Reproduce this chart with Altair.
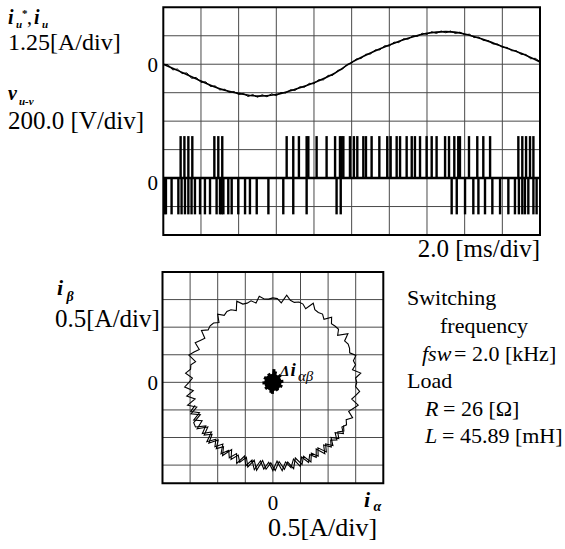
import altair as alt
import pandas as pd

SERIF = "Liberation Serif"

# ---------------- time-domain traces (2.0 ms/div, 10 divisions) ----------------
TIME_GRID_MS = [2, 4, 6, 8, 10, 12, 14, 16, 18]
TOP_DIV_GRID = [-3, -2, -1, 0, 1, 2, 3]
I_ZERO_DIV = 2          # current trace zero, divisions above screen centre
V_ZERO_DIV = -2         # voltage trace zero, divisions below screen centre
I_PER_DIV = 1.25        # A/div
V_PER_DIV = 200.0       # V/div

# reference current i_u* [A], one sample per ms
IREF_T_MS = list(range(21))
IREF_A = [0.00, -0.36, -0.74, -1.08, -1.28, -1.40, -1.33, -1.10, -0.81, -0.44, 0.08,
          0.49, 0.84, 1.14, 1.36, 1.43, 1.33, 1.08, 0.78, 0.48, 0.10]

# measured current i_u [A], one sample per 0.25 ms
IU_STEP_MS = 0.25
IU_A = [0.00, -0.02, -0.25, -0.21, -0.41, -0.38, -0.62, -0.58, -0.80, -0.77,
        -0.98, -0.95, -1.13, -1.10, -1.24, -1.20, -1.33, -1.28, -1.42, -1.33,
        -1.45, -1.34, -1.43, -1.30, -1.38, -1.24, -1.27, -1.12, -1.15, -0.99,
        -1.01, -0.84, -0.86, -0.68, -0.69, -0.49, -0.49, -0.27, -0.23, -0.01,
        0.05, 0.23, 0.25, 0.44, 0.45, 0.63, 0.63, 0.81, 0.80, 0.97,
        0.95, 1.12, 1.10, 1.25, 1.22, 1.36, 1.31, 1.43, 1.35, 1.46,
        1.38, 1.46, 1.35, 1.41, 1.29, 1.32, 1.17, 1.19, 1.04, 1.04,
        0.89, 0.89, 0.74, 0.74, 0.59, 0.59, 0.43, 0.43, 0.24, 0.26, 0.12]

# line-to-line voltage v_u-v: switching pulses [ms]
PULSE_UP_MS = [0.92, 1.12, 1.33, 1.54, 2.71, 2.92, 3.13, 6.55, 6.90, 7.20, 7.61, 7.70,
               8.14, 8.67, 9.12, 9.38, 9.47, 9.56, 9.91, 10.12, 10.30, 10.62, 10.76,
               11.06, 11.47, 11.89, 12.07, 12.39, 12.57, 12.92, 13.19, 13.36, 13.63,
               13.98, 14.25, 14.51, 14.96, 15.17, 15.45, 15.66, 15.75, 16.23, 16.67,
               16.99, 17.35, 18.85, 19.06, 19.26, 19.47, 19.65]
PULSE_DOWN_MS = [0.05, 0.14, 0.44, 0.80, 0.97, 1.15, 1.33, 1.50, 1.68, 1.95, 2.21,
                 2.48, 2.83, 3.01, 3.10, 3.19, 3.45, 3.63, 3.98, 4.34, 4.60, 4.96,
                 5.58, 6.37, 6.90, 7.61, 9.20, 9.42, 15.31, 15.58, 16.02, 16.46,
                 16.73, 17.08, 17.47, 17.88, 18.32, 18.67, 18.88, 19.06, 19.20,
                 19.38, 19.65, 19.82]
V_HIGH = 295.0
V_LOW = -255.0

# ---------------- alpha-beta current plane (0.5 A/div) ----------------
AB_GRID = [-1.5, -1.0, -0.5, 0.0, 0.5, 1.0, 1.5]
# one full turn of the current vector, every 3 degrees
TRAJ_ANGLE_DEG = list(range(0, 361, 3))
TRAJ_RADIUS_A = [
    1.52, 1.50, 1.60, 1.46, 1.53, 1.51, 1.58, 1.49, 1.52, 1.53,
    1.50, 1.62, 1.45, 1.53, 1.52, 1.50, 1.59, 1.47, 1.53, 1.51,
    1.52, 1.61, 1.46, 1.52, 1.53, 1.50, 1.52, 1.60, 1.45, 1.52,
    1.53, 1.51, 1.52, 1.58, 1.47, 1.53, 1.51, 1.52, 1.61, 1.46,
    1.52, 1.53, 1.50, 1.59, 1.46, 1.52, 1.53, 1.51, 1.60, 1.47,
    1.52, 1.58, 1.46, 1.53, 1.60, 1.45, 1.52, 1.51, 1.59, 1.46,
    1.52, 1.60, 1.45, 1.58, 1.44, 1.60, 1.45, 1.59, 1.44, 1.61,
    1.62, 1.45, 1.58, 1.43, 1.61, 1.46, 1.57, 1.44, 1.60, 1.47,
    1.58, 1.45, 1.61, 1.43, 1.59, 1.46, 1.62, 1.44, 1.58, 1.45,
    1.60, 1.43, 1.61, 1.46, 1.58, 1.44, 1.60, 1.45, 1.59, 1.47,
    1.57, 1.44, 1.60, 1.46, 1.58, 1.48, 1.56, 1.45, 1.58, 1.49,
    1.54, 1.49, 1.58, 1.47, 1.53, 1.60, 1.46, 1.52, 1.58, 1.50,
    1.52]
# second pass over the lower arc (dense ripple band), offset by 1.5 degrees
BAND_ANGLE_DEG = [a + 1.5 for a in range(195, 330, 3)]
BAND_RADIUS_A = [
    1.47, 1.58, 1.44, 1.59, 1.46, 1.61, 1.43, 1.57, 1.45, 1.60,
    1.44, 1.58, 1.47, 1.61, 1.43, 1.59, 1.46, 1.57, 1.44, 1.60,
    1.45, 1.62, 1.43, 1.58, 1.46, 1.60, 1.44, 1.59, 1.47, 1.61,
    1.43, 1.58, 1.45, 1.60, 1.46, 1.57, 1.44, 1.59, 1.47, 1.58,
    1.45, 1.57, 1.48, 1.56, 1.50]
# current error vectors delta i_alpha-beta [A]
DI_ALPHA = [0.19, 0.14, 0.05, -0.08, -0.16, -0.19, -0.14, -0.04, 0.09, 0.17, 0.02, -0.01]
DI_BETA = [0.02, 0.13, 0.20, 0.16, 0.09, -0.01, -0.12, -0.19, -0.15, -0.08, 0.24, -0.21]

# ---------------- scales: each panel owns a fixed pixel range ----------------
T_SC = alt.Scale(domain=[0, 20], range=[163.3, 540.0], nice=False, zero=False)
DIV_SC = alt.Scale(domain=[-4, 4], range=[235.0, 7.3], nice=False, zero=False)
A_SC = alt.Scale(domain=[-2.0, 2.0], range=[162.5, 383.3], nice=False, zero=False)
B_SC = alt.Scale(domain=[-1.83, 2.0], range=[483.3, 272.0], nice=False, zero=False)

GRID_COLOR = "#4a4a4a"


def segments(xs, ys, xlim, ylim):
    rows = [{"x": v, "x2": v, "y": ylim[0], "y2": ylim[1]} for v in xs]
    rows += [{"x": xlim[0], "x2": xlim[1], "y": v, "y2": v} for v in ys]
    return pd.DataFrame(rows)


def seg_layer(df, xs, ys, **mark):
    return alt.Chart(df).mark_rule(**mark).encode(
        x=alt.X("x:Q", scale=xs, axis=None), x2="x2:Q",
        y=alt.Y("y:Q", scale=ys, axis=None), y2="y2:Q")


def frame(xs, ys, xlim, ylim):
    df = pd.DataFrame([{"x": xlim[0], "x2": xlim[1], "y": ylim[0], "y2": ylim[1]}])
    return alt.Chart(df).mark_rect(filled=False, stroke="black", strokeWidth=2).encode(
        x=alt.X("x:Q", scale=xs, axis=None), x2="x2:Q",
        y=alt.Y("y:Q", scale=ys, axis=None), y2="y2:Q")


def polar_line(angles, radii, width):
    df = pd.DataFrame({"k": list(range(len(angles))), "deg": angles, "r": radii})
    return alt.Chart(df).transform_calculate(
        ia="datum.r * cos(datum.deg * PI / 180)",
        ib="datum.r * sin(datum.deg * PI / 180)"
    ).mark_line(color="black", strokeWidth=width).encode(
        x=alt.X("ia:Q", scale=A_SC, axis=None),
        y=alt.Y("ib:Q", scale=B_SC, axis=None),
        order="k:Q")


# ---- top panel ----
top_grid = seg_layer(segments(TIME_GRID_MS, TOP_DIV_GRID, (0, 20), (-4, 4)),
                     T_SC, DIV_SC, color=GRID_COLOR, strokeWidth=1)
top_frame = frame(T_SC, DIV_SC, (0, 20), (-4, 4))

iref_df = pd.DataFrame({"t": IREF_T_MS, "i": IREF_A})
iref = alt.Chart(iref_df).transform_calculate(
    yd=f"{I_ZERO_DIV} + datum.i / {I_PER_DIV}"
).mark_line(color="black", strokeWidth=1.6, interpolate="monotone").encode(
    x=alt.X("t:Q", scale=T_SC, axis=None),
    y=alt.Y("yd:Q", scale=DIV_SC, axis=None))

iu_df = pd.DataFrame({"t": [k * IU_STEP_MS for k in range(len(IU_A))], "i": IU_A})
iu = alt.Chart(iu_df).transform_calculate(
    yd=f"{I_ZERO_DIV} + datum.i / {I_PER_DIV}"
).mark_line(color="black", strokeWidth=1.0).encode(
    x=alt.X("t:Q", scale=T_SC, axis=None),
    y=alt.Y("yd:Q", scale=DIV_SC, axis=None))

pulse_df = pd.DataFrame(
    {"t": PULSE_UP_MS + PULSE_DOWN_MS,
     "v": [V_HIGH] * len(PULSE_UP_MS) + [V_LOW] * len(PULSE_DOWN_MS)})
pulses = alt.Chart(pulse_df).transform_calculate(
    y0=f"{V_ZERO_DIV}", y1=f"{V_ZERO_DIV} + datum.v / {V_PER_DIV}"
).mark_rule(color="black", strokeWidth=2.4).encode(
    x=alt.X("t:Q", scale=T_SC, axis=None),
    y=alt.Y("y0:Q", scale=DIV_SC, axis=None), y2="y1:Q")

base_df = pd.DataFrame({"t": [0.0], "t2": [20.0], "y": [V_ZERO_DIV]})
baseline = alt.Chart(base_df).mark_rule(color="black", strokeWidth=2.5).encode(
    x=alt.X("t:Q", scale=T_SC, axis=None), x2="t2:Q",
    y=alt.Y("y:Q", scale=DIV_SC, axis=None))

top = alt.layer(top_grid, iref, iu, pulses, baseline, top_frame)

# ---- bottom panel ----
ab_grid = seg_layer(segments(AB_GRID, AB_GRID, (-2.0, 2.0), (-1.83, 2.0)),
                    A_SC, B_SC, color=GRID_COLOR, strokeWidth=1)
ab_frame = frame(A_SC, B_SC, (-2.0, 2.0), (-1.83, 2.0))

traj = polar_line(TRAJ_ANGLE_DEG, TRAJ_RADIUS_A, 1.1)
band = polar_line(BAND_ANGLE_DEG, BAND_RADIUS_A, 1.1)

di_df = pd.DataFrame({"da": DI_ALPHA, "db": DI_BETA})
di = alt.Chart(di_df).transform_calculate(o="0").mark_rule(
    color="black", strokeWidth=3).encode(
    x=alt.X("o:Q", scale=A_SC, axis=None), x2="da:Q",
    y=alt.Y("o:Q", scale=B_SC, axis=None), y2="db:Q")
di_core = alt.Chart(pd.DataFrame({"a": [0.0], "b": [0.0]})).mark_point(
    shape="circle", filled=True, color="black", opacity=1, size=300).encode(
    x=alt.X("a:Q", scale=A_SC, axis=None),
    y=alt.Y("b:Q", scale=B_SC, axis=None))

bottom = alt.layer(ab_grid, traj, band, di, di_core, ab_frame)


# ---- text ----
def txt(s, x, y, size=21, style="normal", weight="normal", align="left"):
    return alt.Chart(alt.Data(values=[{}])).mark_text(
        text=s, font=SERIF, fontSize=size, fontStyle=style, fontWeight=weight,
        align=align, baseline="alphabetic", color="black").encode(
        x=alt.value(x), y=alt.value(y))


BI = dict(style="italic", weight="bold")
labels = [
    # i_u*, i_u
    txt("i", 8, 24, 20, **BI), txt("u", 16, 27.5, 11, **BI),
    txt("*", 22, 17, 11, weight="bold"), txt(",", 27, 24, 20),
    txt("i", 34, 24, 20, **BI), txt("u", 42, 27.5, 11, **BI),
    txt("1.25[A/div]", 8, 50, 24),
    txt("0", 158, 72, 21, align="right"),
    # v_u-v
    txt("v", 8, 100, 20, **BI), txt("u-v", 19, 104.5, 11, **BI),
    txt("200.0 [V/div]", 8, 129, 25),
    txt("0", 158, 190, 21, align="right"),
    txt("2.0 [ms/div]", 540, 257, 25, align="right"),
    # i_beta
    txt("i", 57, 295, 22, **BI), txt("\u03b2", 66.5, 301, 14, **BI),
    txt("0.5[A/div]", 55, 327, 25),
    txt("0", 158, 390, 21, align="right"),
    txt("0", 273, 510, 21, align="center"),
    # i_alpha
    txt("i", 364, 507, 22, **BI), txt("\u03b1", 373.5, 511, 14, **BI),
    txt("0.5[A/div]", 268, 536, 26),
    # delta i_alpha-beta
    txt("\u0394", 280, 376, 15, **BI), txt("i", 290.5, 376, 19, **BI),
    txt("\u03b1\u03b2", 298, 381, 15, style="italic"),
    # operating conditions
    txt("Switching", 407, 305, 22),
    txt("frequency", 440, 333, 22),
    txt("fsw", 422, 361, 22, style="italic"), txt("= 2.0 [kHz]", 454, 361, 22),
    txt("Load", 407, 388, 22),
    txt("R", 425, 416, 22, style="italic"), txt("= 26 [\u03a9]", 443, 416, 22),
    txt("L", 425, 443, 22, style="italic"), txt("= 45.89 [mH]", 442, 443, 22),
]

chart = alt.layer(top, bottom, *labels).resolve_scale(
    x="independent", y="independent"
).properties(
    width=565, height=549,
    autosize=alt.AutoSizeParams(type="none"),
    padding=0, background="white",
).configure_view(stroke=None)

chart.save("out.html", embed_options={"renderer": "svg", "actions": False})
